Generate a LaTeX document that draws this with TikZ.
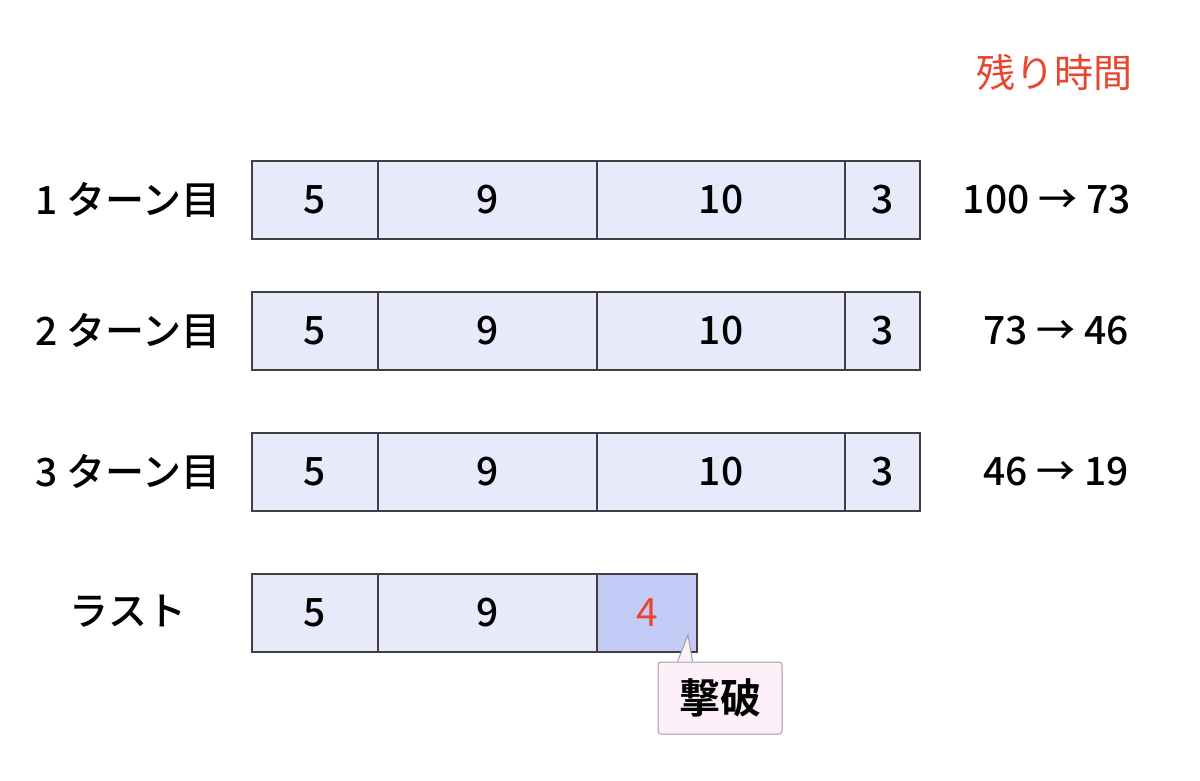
\documentclass[tikz,border=0pt]{standalone}
\usepackage{fontspec}
\setmainfont{Noto Sans CJK JP}[UprightFont=* Medium,BoldFont=* Bold]
\newfontfamily\jpregular{Noto Sans CJK JP}
\usetikzlibrary{calc}

\definecolor{cellfill}{HTML}{E8EAFB}
\definecolor{hitfill}{HTML}{C5CBF7}
\definecolor{cellline}{HTML}{404040}
\definecolor{timered}{HTML}{E8472F}
\definecolor{notefill}{HTML}{FDF0F8}
\definecolor{noteline}{HTML}{A0A0A0}

\begin{document}
\begin{tikzpicture}[x=1pt,y=1pt,
	txt/.style={font=\fontsize{39}{42}\selectfont},
	cell/.style={txt,draw=cellline,line width=2.4pt,fill=cellfill,inner sep=0pt,outer sep=0pt,minimum height=78pt}]

	\fill[white] (0,0) rectangle (1200,780);
	\useasboundingbox (0,0) rectangle (1200,780);

	\node[txt,font=\fontsize{39}{42}\selectfont\jpregular,text=timered,anchor=east] (rest) at (1136,707) {残り時間};

	\node[txt] (t1) at (128,580) {1 ターン目};
	\node[cell,minimum width=126pt] (a1) at (315,580) {5};
	\node[cell,minimum width=219pt] (a2) at (487.5,580) {9};
	\node[cell,minimum width=248pt] (a3) at (721,580) {10};
	\node[cell,minimum width=75pt] (a4) at (882.5,580) {3};
	\node[txt,anchor=east] (r1) at (1134,580) {100 → 73};

	\node[txt] (t2) at (128,449) {2 ターン目};
	\node[cell,minimum width=126pt] (b1) at (315,449) {5};
	\node[cell,minimum width=219pt] (b2) at (487.5,449) {9};
	\node[cell,minimum width=248pt] (b3) at (721,449) {10};
	\node[cell,minimum width=75pt] (b4) at (882.5,449) {3};
	\node[txt,anchor=east] (r2) at (1132,449) {73 → 46};

	\node[txt] (t3) at (128,308) {3 ターン目};
	\node[cell,minimum width=126pt] (c1) at (315,308) {5};
	\node[cell,minimum width=219pt] (c2) at (487.5,308) {9};
	\node[cell,minimum width=248pt] (c3) at (721,308) {10};
	\node[cell,minimum width=75pt] (c4) at (882.5,308) {3};
	\node[txt,anchor=east] (r3) at (1132,308) {46 → 19};

	\node[txt] (tl) at (128,169) {ラスト};
	\node[cell,minimum width=126pt] (l1) at (315,167) {5};
	\node[cell,minimum width=219pt] (l2) at (487.5,167) {9};
	\node[cell,minimum width=100pt,fill=hitfill,text=timered,font=\fontsize{39}{42}\selectfont\jpregular] (l4) at (647,167) {4};

	\node[txt,font=\fontsize{41}{43}\selectfont\bfseries,draw=noteline,line width=1pt,fill=notefill,rounded corners=3pt,minimum width=124pt,minimum height=72pt] (kill) at (720,82) {撃破};
	\coordinate (tip) at ($(l4.south east)+(-9,17)$);
	\path[fill=notefill] ($(kill.north west)+(20,0.5)$) -- (tip) -- ($(kill.north west)+(35,0.5)$) -- cycle;
	\draw[noteline,line width=1pt] ($(kill.north west)+(20,0)$) -- (tip) -- ($(kill.north west)+(35,0)$);

\end{tikzpicture}
\end{document}
